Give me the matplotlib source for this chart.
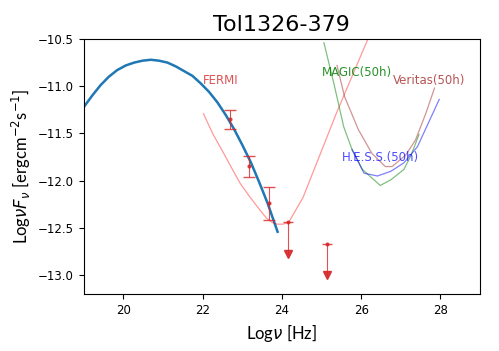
import matplotlib
matplotlib.use('Agg')
import matplotlib.pyplot as plt
import numpy as np

# SED model curve (blue)
model_x = [19.0, 19.21, 19.42, 19.63, 19.84, 20.06, 20.27, 20.48, 20.69, 20.90, 21.11, 21.32,
           21.53, 21.74, 21.95, 22.16, 22.37, 22.59, 22.80, 23.01, 23.22, 23.43, 23.64, 23.89]
model_y = [-11.22, -11.10, -10.99, -10.90, -10.83, -10.78, -10.75, -10.73, -10.72, -10.73, -10.75, -10.79,
           -10.84, -10.89, -10.97, -11.06, -11.17, -11.31, -11.46, -11.63, -11.81, -12.02, -12.24, -12.54]

# FERMI data points
fermi_x = [22.68, 23.16, 23.68]
fermi_y = [-11.35, -11.84, -12.24]
fermi_lo = [0.10, 0.12, 0.18]
fermi_hi = [0.10, 0.10, 0.17]

# FERMI upper limits
ul_x = [24.16, 25.15]
ul_y = [-12.44, -12.67]
ul_len = [0.34, 0.33]

# sensitivity curves
fermi_sx = [22.02, 22.25, 22.53, 22.75, 22.95, 23.17, 23.37, 23.52, 23.62, 23.75, 23.88, 24.02, 24.17, 24.53, 25.39, 26.17]
fermi_sy = [-11.29, -11.50, -11.71, -11.88, -12.03, -12.16, -12.27, -12.35, -12.40, -12.44, -12.46, -12.46, -12.44, -12.18, -11.27, -10.50]

magic_x = [25.06, 25.31, 25.56, 25.77, 26.03, 26.48, 26.75, 27.08, 27.25, 27.46]
magic_y = [-10.54, -10.97, -11.43, -11.67, -11.88, -12.05, -11.99, -11.88, -11.74, -11.51]

veritas_x = [25.39, 25.58, 25.93, 26.27, 26.61, 26.78, 27.12, 27.37, 27.63, 27.85]
veritas_y = [-10.78, -11.11, -11.46, -11.71, -11.85, -11.85, -11.73, -11.57, -11.29, -11.02]

hess_x = [25.77, 26.07, 26.41, 26.75, 27.08, 27.42, 27.97]
hess_y = [-11.67, -11.92, -11.95, -11.90, -11.81, -11.64, -11.14]

fig = plt.figure(figsize=(4.99, 3.51), dpi=100)
ax = fig.add_axes([0.168, 0.162, 0.794, 0.727])

ax.plot(model_x, model_y, color='#1f77b4', lw=1.8)

ax.plot(fermi_sx, fermi_sy, color='red', alpha=0.4, lw=0.9)
ax.plot(magic_x, magic_y, color='green', alpha=0.5, lw=0.9)
ax.plot(veritas_x, veritas_y, color='brown', alpha=0.5, lw=0.9)
ax.plot(hess_x, hess_y, color='blue', alpha=0.5, lw=0.9)

ax.errorbar(fermi_x, fermi_y, yerr=[fermi_lo, fermi_hi], fmt='.', color='#d62728',
            ecolor='#d62728', elinewidth=0.8, capsize=4, ms=4, alpha=0.8)

for x, y, d in zip(ul_x, ul_y, ul_len):
    ax.plot([x, x], [y, y - d], color='#d62728', lw=0.8, alpha=0.8)
    ax.plot([x], [y], marker='.', color='#d62728', ms=4, alpha=0.8)
    ax.plot([x], [y], marker='_', color='#d62728', ms=7, alpha=0.8)
    ax.plot([x], [y - d], marker='v', color='#d62728', ms=5.5, alpha=0.9)

ax.text(22.0, -10.94, 'FERMI', color='#d62728', alpha=0.8, fontsize=8.5, va='center')
ax.text(25.0, -10.85, 'MAGIC(50h)', color='green', alpha=0.85, fontsize=8.5, va='center')
ax.text(26.8, -10.94, 'Veritas(50h)', color='brown', alpha=0.8, fontsize=8.5, va='center')
ax.text(25.52, -11.75, 'H.E.S.S.(50h)', color='blue', alpha=0.7, fontsize=8.5, va='center')

ax.set_xlim(19, 29)
ax.set_ylim(-13.2, -10.5)
ax.set_xticks([20, 22, 24, 26, 28])
ax.set_yticks([-10.5, -11.0, -11.5, -12.0, -12.5, -13.0])
ax.tick_params(labelsize=8.5)

ax.set_title('Tol1326-379', fontsize=16)
ax.set_xlabel(r'Log$\nu$ [Hz]', fontsize=12, family='Lato')
ax.set_ylabel(r'Log$\nu F_\nu$ [ergcm$^{-2}$s$^{-1}$]', fontsize=12, family='Lato')

fig.savefig('out.png', dpi=100)
